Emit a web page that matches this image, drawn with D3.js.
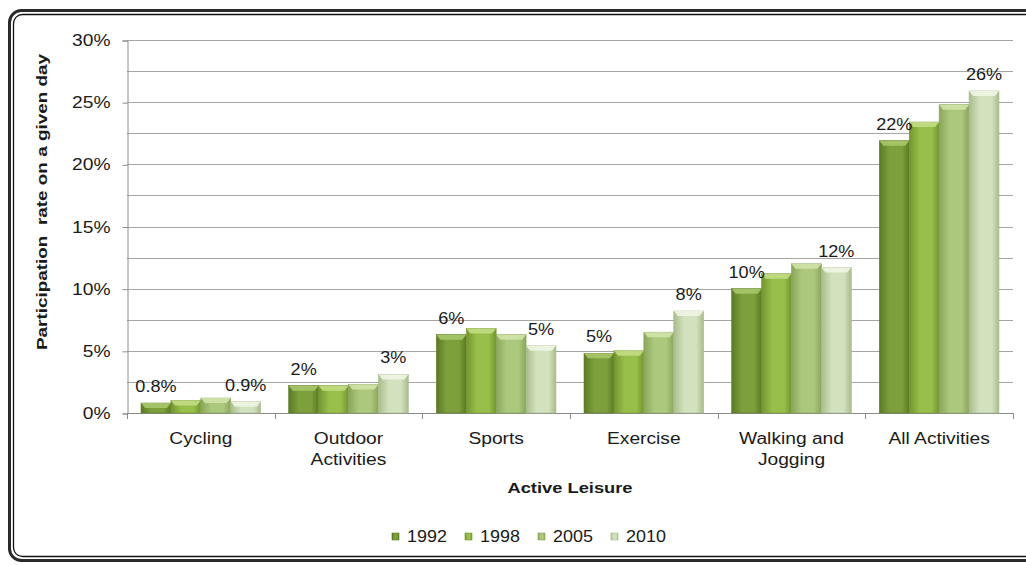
<!DOCTYPE html>
<html>
<head>
<meta charset="utf-8">
<script src="https://cdn.jsdelivr.net/npm/d3@7"></script>
<style>
  body { margin: 0; background: #fff; }
  svg text { font-family: 'Liberation Sans', Arial, sans-serif; fill: #1a1a1a; }
</style>
</head>
<body>
<svg width="1026" height="565"></svg>
<script>
'use strict';

var categories = [['Cycling'], ['Outdoor', 'Activities'], ['Sports'], ['Exercise'], ['Walking and', 'Jogging'], ['All Activities']];
var years = ['1992', '1998', '2005', '2010'];
var v1992 = [0.8, 2.2, 6.3, 4.8, 10.0, 21.9];
var v1998 = [1.0, 2.2, 6.8, 5.0, 11.2, 23.4];
var v2005 = [1.2, 2.3, 6.3, 6.5, 12.0, 24.8];
var v2010 = [0.9, 3.1, 5.4, 8.2, 11.7, 25.9];
var labels1992 = ['0.8%', '2%', '6%', '5%', '10%', '22%'];
var labels2010 = ['0.9%', '3%', '5%', '8%', '12%', '26%'];
var yTicks = [0, 5, 10, 15, 20, 25, 30];
var gridTicks = [0, 2.5, 5, 7.5, 10, 12.5, 15, 17.5, 20, 22.5, 25, 27.5, 30];

var seriesValues = [v1992, v1998, v2005, v2010];
var colors = [
    {mid: '#7ea03c', edge: '#5b7a25', top: '#a9c66a'},
    {mid: '#97bf4a', edge: '#73952f', top: '#c2dc84'},
    {mid: '#abc87c', edge: '#8aa65a', top: '#d0e3a8'},
    {mid: '#d3e2be', edge: '#a9bc8c', top: '#eef5e2'}
];

var svg = d3.select('svg'),
    plotLeft = 127, plotRight = 1013, plotTop = 40, plotBottom = 413;

// the original font is a wide one: stretch text horizontally
function stretch(sel, f) {
    sel.each(function() {
        var len = this.getComputedTextLength();
        this.setAttribute('textLength', len * f);
        this.setAttribute('lengthAdjust', 'spacingAndGlyphs');
    });
}

// rounded double frame
svg.append('rect').attr('x', 9.5).attr('y', 10.5).attr('width', 1040).attr('height', 550)
    .attr('rx', 12).attr('fill', 'none').attr('stroke', '#2a2a2a').attr('stroke-width', 3);
svg.append('rect').attr('x', 13.5).attr('y', 14.5).attr('width', 1040).attr('height', 542)
    .attr('rx', 9).attr('fill', 'none').attr('stroke', '#111').attr('stroke-width', 1.3);

var defs = svg.append('defs');
colors.forEach(function(c, i) {
    var g = defs.append('linearGradient').attr('id', 'grad' + i)
        .attr('x1', 0).attr('x2', 1).attr('y1', 0).attr('y2', 0);
    g.append('stop').attr('offset', '0%').attr('stop-color', c.edge);
    g.append('stop').attr('offset', '35%').attr('stop-color', c.mid);
    g.append('stop').attr('offset', '75%').attr('stop-color', c.mid);
    g.append('stop').attr('offset', '100%').attr('stop-color', c.edge);
});

var y = d3.scaleLinear().domain([0, 30]).range([plotBottom, plotTop]);
var x0 = d3.scaleBand().domain(d3.range(categories.length)).range([plotLeft, plotRight]).paddingInner(0.19).paddingOuter(0.095);
var x1 = d3.scaleBand().domain(d3.range(years.length)).range([0, x0.bandwidth()]);
var step = (plotRight - plotLeft) / categories.length;

// gridlines
svg.append('g').selectAll('line').data(gridTicks.slice(1)).enter().append('line')
    .attr('x1', plotLeft).attr('x2', plotRight)
    .attr('y1', function(d) { return Math.round(y(d)) + 0.5; })
    .attr('y2', function(d) { return Math.round(y(d)) + 0.5; })
    .attr('stroke', '#a6a6a6').attr('stroke-width', 1);

// y axis
var yAxis = svg.append('g').attr('transform', 'translate(' + (plotLeft + 0.5) + ',0.5)')
    .call(d3.axisLeft(y).tickValues(yTicks).tickSize(5).tickPadding(12)
        .tickFormat(function(d) { return d + '%'; }));
yAxis.selectAll('.domain, line').attr('stroke', '#8c8c8c');
yAxis.selectAll('text').attr('font-size', 16).attr('fill', '#1a1a1a')
    .attr('font-family', "'Liberation Sans', Arial, sans-serif");
stretch(yAxis.selectAll('text'), 1.2);

// x axis
svg.append('line').attr('x1', plotLeft).attr('x2', plotRight)
    .attr('y1', plotBottom + 0.5).attr('y2', plotBottom + 0.5).attr('stroke', '#8c8c8c');
svg.append('g').selectAll('line').data(d3.range(categories.length + 1)).enter().append('line')
    .attr('x1', function(d) { return Math.round(plotLeft + d * step) + 0.5; })
    .attr('x2', function(d) { return Math.round(plotLeft + d * step) + 0.5; })
    .attr('y1', plotBottom).attr('y2', plotBottom + 6).attr('stroke', '#8c8c8c');

var catLabels = svg.append('g').selectAll('text').data(categories).enter().append('text')
    .attr('text-anchor', 'middle').attr('font-size', 16)
    .attr('transform', function(d, i) { return 'translate(' + (plotLeft + (i + 0.5) * step) + ',444)'; });
var catLines = catLabels.selectAll('tspan').data(function(d) { return d; }).enter().append('tspan')
    .attr('x', 0).attr('y', function(d, i) { return i * 21; })
    .text(function(d) { return d; });
stretch(catLines, 1.2);

// bars
seriesValues.forEach(function(vals, s) {
    var g = svg.append('g');
    var bars = g.selectAll('g').data(vals).enter().append('g')
        .attr('transform', function(d, i) { return 'translate(' + (x0(i) + x1(s)) + ',0)'; });
    var w = x1.bandwidth();
    bars.append('rect')
        .attr('x', 0).attr('width', w)
        .attr('y', function(d) { return y(d); })
        .attr('height', function(d) { return plotBottom - y(d); })
        .attr('fill', 'url(#grad' + s + ')')
        .attr('stroke', colors[s].edge).attr('stroke-width', 0.6);
    bars.append('path')
        .attr('d', function(d) {
            var t = y(d), b = Math.min(5, (plotBottom - t) / 2);
            return 'M0,' + t + 'L' + w + ',' + t + 'L' + (w - 4) + ',' + (t + b) + 'L4,' + (t + b) + 'Z';
        })
        .attr('fill', colors[s].top).attr('opacity', 0.9);
});

// data labels (1992 and 2010)
[[v1992, labels1992, 0], [v2010, labels2010, 3]].forEach(function(set) {
    var t = svg.append('g').selectAll('text').data(set[0]).enter().append('text')
        .attr('x', function(d, i) { return x0(i) + x1(set[2]) + x1.bandwidth() / 2; })
        .attr('y', function(d) { return y(d) - 11; })
        .attr('text-anchor', 'middle').attr('font-size', 16)
        .text(function(d, i) { return set[1][i]; });
    stretch(t, 1.13);
});

// axis titles
var yTitle = svg.append('text').attr('transform', 'translate(47,202) rotate(-90)')
    .attr('text-anchor', 'middle').attr('font-size', 15).attr('font-weight', 'bold')
    .style('white-space', 'pre')
    .text('Participation  rate on a given day');
stretch(yTitle, 1.26);
var xTitle = svg.append('text').attr('x', (plotLeft + plotRight) / 2).attr('y', 493)
    .attr('text-anchor', 'middle').attr('font-size', 15).attr('font-weight', 'bold')
    .text('Active Leisure');
stretch(xTitle, 1.22);

// legend
var legend = svg.append('g').selectAll('g').data(years).enter().append('g')
    .attr('transform', function(d, i) { return 'translate(' + (392 + i * 73) + ',533)'; });
legend.append('rect').attr('width', 7).attr('height', 7)
    .attr('fill', function(d, i) { return 'url(#grad' + i + ')'; })
    .attr('stroke', function(d, i) { return colors[i].edge; }).attr('stroke-width', 0.6);
var legendText = legend.append('text').attr('x', 15).attr('y', 9).attr('font-size', 16)
    .text(function(d) { return d; });
stretch(legendText, 1.12);
</script>
</body>
</html>
